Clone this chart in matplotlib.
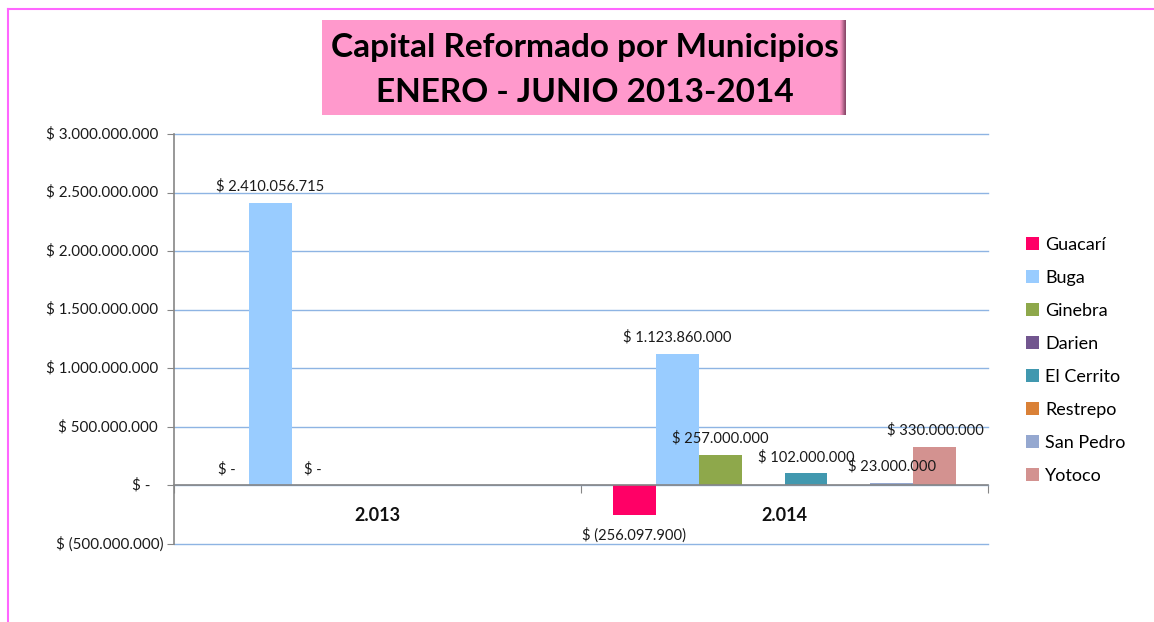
import matplotlib
matplotlib.use("Agg")
import matplotlib.pyplot as plt
import matplotlib.transforms as mtransforms
from matplotlib.patches import Rectangle
import numpy as np

plt.rcParams['font.family'] = ['Lato', 'DejaVu Sans']

categories = ["2.013", "2.014"]
municipios = ["Guacarí", "Buga", "Ginebra", "Darien", "El Cerrito", "Restrepo", "San Pedro", "Yotoco"]
valores_2013 = [0, 2410056715, 0, None, None, None, None, None]
valores_2014 = [-256097900, 1123860000, 257000000, None, 102000000, None, 23000000, 330000000]
colores = ["#FF0066", "#99CCFF", "#8EA84B", "#72568F", "#4198AF", "#DA8137", "#95A8D0", "#D39290"]
yticks = [-500000000, 0, 500000000, 1000000000, 1500000000, 2000000000, 2500000000, 3000000000]


def fmt_money(v):
    if v == 0:
        return "$ -"
    s = f"{abs(int(round(v))):,}".replace(",", ".")
    if v < 0:
        return f"$ ({s})"
    return f"$ {s}"


fig = plt.figure(figsize=(11.54, 6.22), dpi=100)
fig.patch.set_facecolor("white")

# outer pink frame (top and left edges)
fig.add_artist(plt.Line2D([8 / 1154, 8 / 1154], [0, 1 - 9 / 622], color="#FF66FF", lw=1.5,
                          transform=fig.transFigure))
fig.add_artist(plt.Line2D([8 / 1154, 1], [1 - 9 / 622, 1 - 9 / 622], color="#FF66FF", lw=1.5,
                          transform=fig.transFigure))

ax = fig.add_axes([174 / 1154, 1 - 544 / 622, (988 - 174) / 1154, (544 - 134) / 622])

n = len(municipios)
group = 0.845
w = group / n
x = np.arange(len(categories))
series = list(zip(valores_2013, valores_2014))
for i, (name, col) in enumerate(zip(municipios, colores)):
    vals = np.array([np.nan if v is None else v for v in series[i]], dtype=float)
    pos = x - group / 2 + w * (i + 0.5)
    ax.bar(pos, np.nan_to_num(vals), width=w, color=col, label=name, zorder=3)
    for p, v in zip(pos, vals):
        if np.isnan(v):
            continue
        if v < 0:
            ax.annotate(fmt_money(v), (p, v), xytext=(0, -14), textcoords="offset points",
                        ha="center", va="center", fontsize=10.6, color="#1a1a1a", zorder=5)
        else:
            ax.annotate(fmt_money(v), (p, v), xytext=(0, 12), textcoords="offset points",
                        ha="center", va="center", fontsize=10.6, color="#1a1a1a", zorder=5)

ax.set_xlim(-0.5, 1.5)
ax.set_ylim(-500000000, 3000000000)
ax.set_yticks(yticks)
ax.set_yticklabels([])
ax.yaxis.grid(True, color="#8EB4E3", lw=1.0, zorder=0)
for gl in ax.get_ygridlines():
    gl.set_clip_on(False)
ax.set_axisbelow(True)
ax.tick_params(axis="y", length=5, color="#868686", direction="out")

# y tick labels (accounting alignment)
trans = mtransforms.blended_transform_factory(ax.transAxes, ax.transData)
for t in yticks:
    lab = fmt_money(t)
    dx = -16 / 814
    if t == 0:
        dx = -24 / 814
    elif t < 0:
        dx = -11 / 814
    ax.text(dx, t, lab, transform=trans, ha="right", va="center", fontsize=10.9, color="#1a1a1a")

for s in ["top", "right"]:
    ax.spines[s].set_visible(False)
ax.spines["left"].set_color("#868686")
ax.spines["left"].set_linewidth(1.2)
ax.spines["bottom"].set_position(("data", 0))
ax.spines["bottom"].set_color("#868686")
ax.spines["bottom"].set_linewidth(1.2)
ax.spines["bottom"].set_zorder(4)

ax.set_xticks([-0.5, 0.5, 1.5])
ax.set_xticklabels([])
ax.tick_params(axis="x", length=6, color="#868686", direction="out")
for xi, c in zip(x, categories):
    ax.annotate(c, (xi, 0), xytext=(0, -22), textcoords="offset points", ha="center", va="center",
                fontsize=13, fontweight="bold", color="#111111")

# title box
fig.add_artist(Rectangle((322 / 1154, 1 - 115 / 622), (846 - 322) / 1154, 95 / 622,
                         transform=fig.transFigure, facecolor="#FF99CC", edgecolor="none", zorder=1))
shade = ["#F490BE", "#E486B1", "#CE76A0", "#B4668C", "#9C5578", "#8C4A6B"]
for k, c in enumerate(shade):
    fig.add_artist(Rectangle(((840 + k) / 1154, 1 - 115 / 622), 1 / 1154, 95 / 622,
                             transform=fig.transFigure, facecolor=c, edgecolor="none", zorder=1))
fig.text(585 / 1154, 1 - 48 / 622, "Capital Reformado por Municipios", ha="center", va="center",
         fontsize=24, fontweight="bold", color="black", zorder=2)
fig.text(585 / 1154, 1 - 92 / 622, "ENERO - JUNIO 2013-2014", ha="center", va="center",
         fontsize=24, fontweight="bold", color="black", zorder=2)

leg = fig.legend(loc="upper left", bbox_to_anchor=(1026 / 1154, 1 - 237 / 622), frameon=False,
                 fontsize=13, handlelength=0.7, handleheight=0.7, handletextpad=0.35,
                 labelspacing=0.94, borderaxespad=0, borderpad=0)

fig.savefig("out.png", dpi=100)
